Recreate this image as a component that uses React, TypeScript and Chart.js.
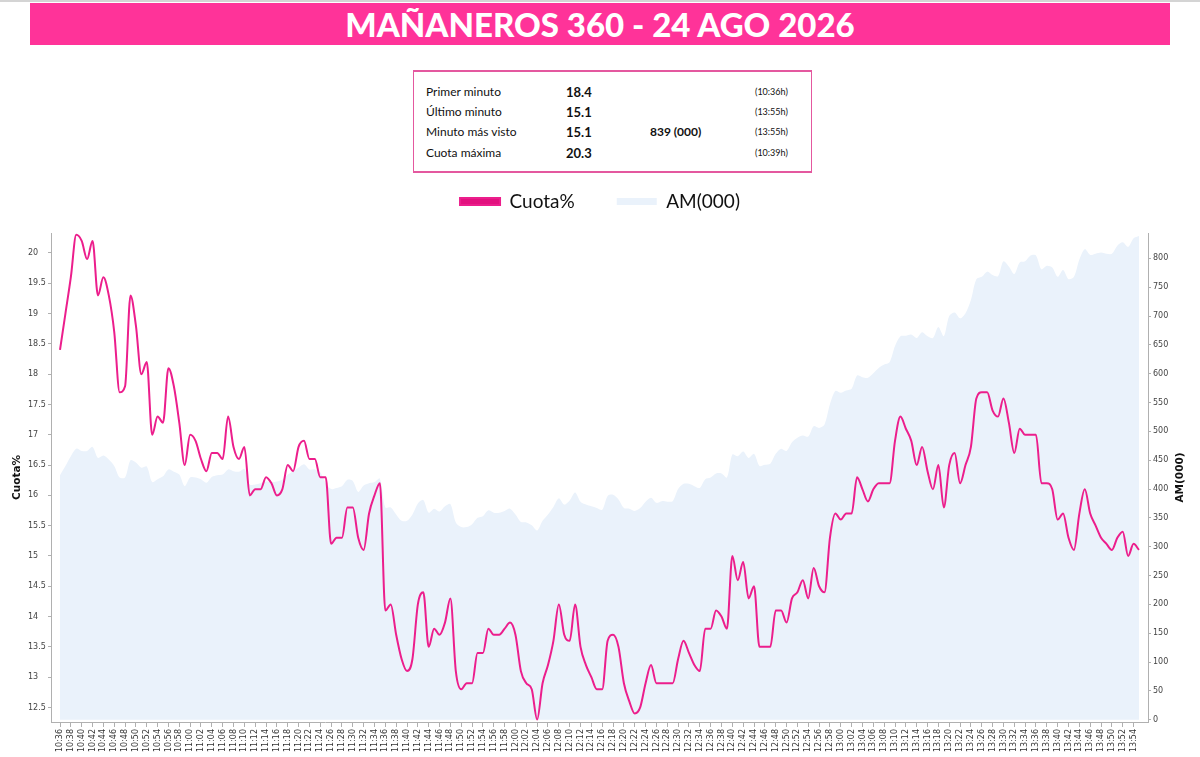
import React, { useEffect, useRef } from 'react';
import { Chart, registerables } from 'chart.js';

Chart.register(...registerables);

const TITLE = 'MAÑANEROS 360 - 24 AGO 2026';
const START_MINUTE = 10 * 60 + 36;

// Cuota% por minuto (10:36 -> 13:55)
const cuota: number[] = [
  18.4, 19.0, 19.6, 20.3, 20.2, 19.9, 20.2, 19.3, 19.6, 19.3,
  18.7, 17.7, 17.8, 19.3, 18.8, 18.0, 18.2, 17.0, 17.3, 17.2,
  18.1, 17.8, 17.2, 16.5, 17.0, 16.9, 16.6, 16.4, 16.7, 16.7,
  16.6, 17.3, 16.8, 16.6, 16.8, 16.0, 16.1, 16.1, 16.3, 16.2,
  16.0, 16.1, 16.5, 16.4, 16.8, 16.9, 16.6, 16.6, 16.3, 16.3,
  15.2, 15.3, 15.3, 15.8, 15.8, 15.3, 15.1, 15.7, 16.0, 16.2,
  14.1, 14.2, 13.7, 13.3, 13.1, 13.3, 14.2, 14.4, 13.5, 13.8,
  13.7, 13.9, 14.3, 13.1, 12.8, 12.9, 12.9, 13.4, 13.4, 13.8,
  13.7, 13.7, 13.8, 13.9, 13.7, 13.1, 12.9, 12.8, 12.3, 12.9,
  13.2, 13.6, 14.2, 13.7, 13.6, 14.2, 13.5, 13.2, 13.0, 12.8,
  12.8, 13.6, 13.7, 13.5, 12.9, 12.6, 12.4, 12.5, 12.9, 13.2,
  12.9, 12.9, 12.9, 12.9, 13.3, 13.6, 13.4, 13.2, 13.1, 13.8,
  13.8, 14.1, 14.0, 13.8, 15.0, 14.6, 14.9, 14.3, 14.5, 13.5,
  13.5, 13.5, 14.1, 14.1, 13.9, 14.3, 14.4, 14.6, 14.3, 14.8,
  14.5, 14.4, 15.3, 15.7, 15.6, 15.7, 15.7, 16.3, 16.1, 15.9,
  16.1, 16.2, 16.2, 16.2, 16.9, 17.3, 17.1, 16.9, 16.5, 16.8,
  16.4, 16.1, 16.5, 15.8, 16.5, 16.7, 16.2, 16.5, 16.8, 17.6,
  17.7, 17.7, 17.4, 17.3, 17.6, 17.2, 16.7, 17.1, 17.0, 17.0,
  17.0, 16.2, 16.2, 16.1, 15.6, 15.7, 15.3, 15.1, 15.7, 16.1,
  15.7, 15.5, 15.3, 15.2, 15.1, 15.3, 15.4, 15.0, 15.2, 15.1,
];

// AM(000) por minuto
const audiencia: number[] = [
  424, 440, 457, 470, 466, 466, 473, 454, 458, 451,
  440, 420, 420, 450, 446, 437, 439, 412, 417, 422,
  434, 430, 425, 405, 420, 420, 417, 411, 421, 424,
  425, 434, 431, 430, 435, 408, 408, 410, 413, 412,
  413, 416, 425, 431, 437, 443, 434, 434, 429, 410,
  400, 402, 405, 416, 414, 395, 406, 410, 412, 418,
  368, 368, 356, 345, 345, 356, 375, 381, 359, 366,
  361, 370, 374, 342, 334, 334, 339, 350, 353, 363,
  359, 359, 362, 366, 356, 343, 342, 337, 328, 345,
  356, 369, 384, 373, 380, 394, 378, 373, 370, 367,
  364, 388, 390, 382, 367, 366, 362, 367, 378, 385,
  376, 379, 378, 379, 400, 409, 409, 405, 402, 417,
  420, 427, 427, 420, 460, 457, 465, 454, 461, 440,
  442, 444, 461, 470, 466, 481, 489, 493, 491, 509,
  506, 512, 547, 570, 567, 571, 574, 597, 594, 593,
  601, 610, 616, 620, 648, 665, 666, 668, 662, 672,
  665, 662, 681, 665, 700, 706, 696, 705, 728, 764,
  768, 777, 771, 769, 795, 786, 773, 793, 795, 805,
  805, 781, 787, 784, 768, 780, 764, 768, 798, 816,
  806, 808, 810, 808, 808, 822, 828, 820, 835, 839,
];

const timeLabels: string[] = cuota.map((_, i) => {
  const t = START_MINUTE + i;
  return `${Math.floor(t / 60)}:${String(t % 60).padStart(2, '0')}`;
});

const leftTicks: number[] = [12.5, 13, 13.5, 14, 14.5, 15, 15.5, 16, 16.5, 17, 17.5, 18, 18.5, 19, 19.5, 20];
const rightTicks: number[] = [0, 50, 100, 150, 200, 250, 300, 350, 400, 450, 500, 550, 600, 650, 700, 750, 800];

const summaryLabels = ['Primer minuto', 'Último minuto', 'Minuto más visto', 'Cuota máxima'];
const summaryValues = ['18.4', '15.1', '15.1', '20.3'];
const summaryExtra = ['', '', '839 (000)', ''];
const summaryTimes = ['(10:36h)', '(13:55h)', '(13:55h)', '(10:39h)'];

const LEGEND_CUOTA = 'Cuota%';
const LEGEND_AM = 'AM(000)';
const AXIS_LEFT_TITLE = 'Cuota%';
const AXIS_RIGHT_TITLE = 'AM(000)';

const PINK_LINE = '#EC1E8C';
const PINK_LEGEND = '#E2117F';
const AREA_BLUE = '#EAF2FB';
const AXIS_GREY = '#b0b0b0';

const CANVAS_TOP = 150;
const CANVAS_W = 1200;
const CANVAS_H = 757 - CANVAS_TOP;
const LEGEND_H = 83;
const XAXIS_H = 35;

const tickFont = { family: '"DejaVu Sans"', size: 8 };

const legendSpacer = {
  id: 'legendSpacer',
  beforeInit(chart: any) {
    const legend = chart.legend;
    if (!legend) return;
    const orig = legend.fit;
    legend.fit = function () {
      orig.call(this);
      this.height = LEGEND_H;
    };
  },
};

const axisTitles = {
  id: 'axisTitles',
  afterDraw(chart: any) {
    const { ctx, chartArea } = chart;
    const midY = (chartArea.top + chartArea.bottom) / 2;
    ctx.save();
    ctx.fillStyle = '#111';
    ctx.font = 'bold 10.5px "DejaVu Sans"';
    ctx.textAlign = 'center';
    ctx.textBaseline = 'middle';
    ctx.save();
    ctx.translate(chart.scales.y.left - 11, midY);
    ctx.rotate(-Math.PI / 2);
    ctx.fillText(AXIS_LEFT_TITLE, 0, 0);
    ctx.restore();
    ctx.save();
    ctx.translate(chart.scales.y1.right + 8, midY);
    ctx.rotate(-Math.PI / 2);
    ctx.fillText(AXIS_RIGHT_TITLE, 0, 0);
    ctx.restore();
    ctx.restore();
  },
};

function ChartCanvas() {
  const ref = useRef<HTMLCanvasElement | null>(null);
  useEffect(() => {
    if (!ref.current) return;
    const chart = new Chart(ref.current, {
      type: 'line',
      data: {
        datasets: [
          {
            label: LEGEND_CUOTA,
            data: cuota.map((v, i) => ({ x: i, y: v })),
            yAxisID: 'y',
            borderColor: PINK_LINE,
            backgroundColor: PINK_LEGEND,
            borderWidth: 2,
            pointRadius: 0,
            cubicInterpolationMode: 'monotone',
            fill: false,
            order: 0,
          },
          {
            label: LEGEND_AM,
            data: audiencia.map((v, i) => ({ x: i, y: v })),
            yAxisID: 'y1',
            borderColor: 'rgba(0,0,0,0)',
            backgroundColor: AREA_BLUE,
            borderWidth: 0,
            pointRadius: 0,
            tension: 0.3,
            fill: 'origin',
            order: 1,
          },
        ],
      },
      options: {
        animation: false,
        responsive: false,
        maintainAspectRatio: false,
        layout: { padding: { left: 28, right: 28, top: 0, bottom: 0 } },
        plugins: {
          legend: {
            display: true,
            position: 'top',
            labels: {
              boxWidth: 40,
              boxHeight: 7,
              padding: 42,
              color: '#111',
              font: { family: 'Lato', size: 19 },
            },
          },
          tooltip: { enabled: false },
        },
        scales: {
          x: {
            type: 'linear',
            min: -1.66,
            max: cuota.length - 1 + 1.66,
            afterBuildTicks: (axis: any) => {
              axis.ticks = timeLabels
                .map((_, i) => i)
                .filter((i) => i % 2 === 0)
                .map((i) => ({ value: i }));
            },
            afterFit: (s: any) => {
              s.height = XAXIS_H;
            },
            ticks: {
              stepSize: 2,
              includeBounds: false,
              autoSkip: false,
              minRotation: 90,
              maxRotation: 90,
              padding: 2,
              color: '#333',
              font: tickFont,
              callback: (v: any) => timeLabels[v] ?? '',
            },
            grid: { drawOnChartArea: false, tickLength: 5, color: AXIS_GREY },
            border: { color: AXIS_GREY },
          },
          y: {
            position: 'left',
            min: 12.26,
            max: 20.33,
            afterBuildTicks: (axis: any) => {
              axis.ticks = leftTicks.map((v) => ({ value: v }));
            },
            afterFit: (s: any) => {
              s.width = 23;
            },
            ticks: {
              crossAlign: 'far',
              padding: 2,
              color: '#444',
              font: tickFont,
              callback: (v: any) => String(v),
            },
            grid: { drawOnChartArea: false, tickLength: 3, color: AXIS_GREY },
            border: { color: AXIS_GREY },
          },
          y1: {
            position: 'right',
            min: -4,
            max: 844,
            afterBuildTicks: (axis: any) => {
              axis.ticks = rightTicks.map((v) => ({ value: v }));
            },
            afterFit: (s: any) => {
              s.width = 24;
            },
            ticks: {
              padding: 2,
              color: '#444',
              font: tickFont,
              callback: (v: any) => String(v),
            },
            grid: { drawOnChartArea: false, tickLength: 3, color: AXIS_GREY },
            border: { color: AXIS_GREY },
          },
        },
      } as any,
      plugins: [legendSpacer, axisTitles],
    });
    return () => chart.destroy();
  }, []);
  return (
    <canvas
      ref={ref}
      width={CANVAS_W}
      height={CANVAS_H}
      style={{ position: 'absolute', left: 0, top: CANVAS_TOP, width: CANVAS_W, height: CANVAS_H }}
    />
  );
}

export default function App() {
  const rowCenters = [20, 40, 60, 81];
  return (
    <div
      style={{
        position: 'absolute',
        left: 0,
        top: 0,
        width: 1200,
        height: 757,
        background: '#fff',
        overflow: 'hidden',
        fontFamily: 'Lato, "Open Sans", sans-serif',
      }}
    >
      <div style={{ position: 'absolute', left: 0, top: 0, width: 1200, height: 2, background: '#d4d4d4' }} />
      <div
        style={{
          position: 'absolute',
          left: 30,
          top: 3,
          width: 1140,
          height: 42,
          background: '#FF3399',
          color: '#fff',
          fontWeight: 900,
          fontSize: 33,
          lineHeight: '42px',
          textAlign: 'center',
          letterSpacing: 0,
        }}
      >
        {TITLE}
      </div>
      <div
        style={{
          position: 'absolute',
          left: 413,
          top: 70,
          width: 397,
          height: 99,
          border: '1.5px solid #E4589F',
          borderTopWidth: 2,
          borderBottomWidth: 2,
          color: '#111',
        }}
      >
        {summaryLabels.map((lab, i) => (
          <React.Fragment key={lab}>
            <div style={{ position: 'absolute', left: 12, top: rowCenters[i] - 9, lineHeight: '18px', fontSize: 12 }}>
              {lab}
            </div>
            <div
              style={{
                position: 'absolute',
                left: 152,
                top: rowCenters[i] - 9,
                lineHeight: '18px',
                fontSize: 13,
                fontWeight: 700,
              }}
            >
              {summaryValues[i]}
            </div>
            {summaryExtra[i] && (
              <div
                style={{
                  position: 'absolute',
                  left: 236,
                  top: rowCenters[i] - 9,
                  lineHeight: '18px',
                  fontSize: 12,
                  fontWeight: 700,
                }}
              >
                {summaryExtra[i]}
              </div>
            )}
            <div style={{ position: 'absolute', left: 341, top: rowCenters[i] - 9, lineHeight: '18px', fontSize: 9 }}>
              {summaryTimes[i]}
            </div>
          </React.Fragment>
        ))}
      </div>
      <ChartCanvas />
    </div>
  );
}
